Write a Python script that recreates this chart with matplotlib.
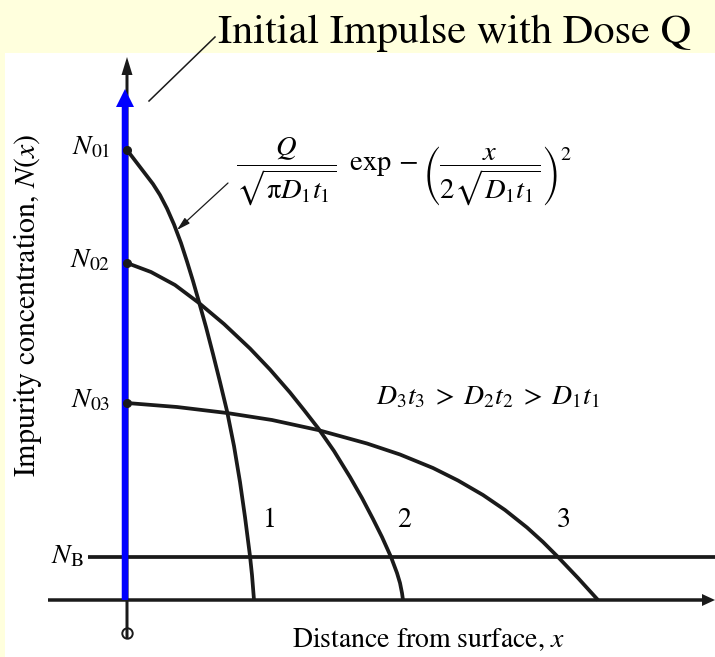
import numpy as np
import matplotlib
matplotlib.use("Agg")
import matplotlib.pyplot as plt
from matplotlib.patches import Rectangle

plt.rcParams['font.family'] = 'STIXGeneral'
plt.rcParams['mathtext.fontset'] = 'stix'

# depth (arbitrary units) and log-concentration above the plotted floor
curve1_x = [0.00, 0.13, 0.26, 0.33, 0.40, 0.47, 0.54, 0.60, 0.66, 0.72, 0.79, 0.86, 0.93,
            1.00, 1.07, 1.13, 1.18, 1.23, 1.25, 1.27]
curve1_y = [4.50, 4.33, 4.16, 4.05, 3.915, 3.756, 3.57, 3.385, 3.19, 2.98, 2.73, 2.46, 2.18,
            1.89, 1.54, 1.18, 0.83, 0.44, 0.25, 0.00]
curve2_x = [0.00, 0.24, 0.48, 0.72, 0.97, 1.23, 1.43, 1.63, 1.77, 1.91, 2.07, 2.23, 2.35,
            2.46, 2.55, 2.64, 2.70, 2.73, 2.75, 2.76]
curve2_y = [3.37, 3.28, 3.15, 2.97, 2.76, 2.515, 2.305, 2.075, 1.90, 1.72, 1.49, 1.23, 1.02,
            0.81, 0.63, 0.43, 0.27, 0.17, 0.07, 0.00]
curve3_x = [0.00, 0.50, 1.00, 1.45, 1.91, 2.40, 2.73, 3.06, 3.31, 3.56, 3.78, 4.00, 4.16,
            4.31, 4.51, 4.71]
curve3_y = [1.97, 1.93, 1.87, 1.80, 1.70, 1.565, 1.455, 1.32, 1.195, 1.05, 0.90, 0.725, 0.58,
            0.43, 0.22, 0.00]
curves = [(curve1_x, curve1_y), (curve2_x, curve2_y), (curve3_x, curve3_y)]
surface_labels = [r'$N_{01}$', r'$N_{02}$', r'$N_{03}$']
curve_names = ['1', '2', '3']
background_level = 0.43

k = '#1a1a1a'
fig = plt.figure(figsize=(7.15, 6.57), dpi=100, facecolor='#ffffdd')
ax = fig.add_axes([0, 0, 1, 1])
ax.set_xlim(-1.27, 5.88)
ax.set_ylim(-0.57, 6.00)
ax.axis('off')
ax.add_patch(Rectangle((5 / 715, 0), 710 / 715, 604 / 657, transform=fig.transFigure,
                       facecolor='white', edgecolor='none', zorder=0))

# axes drawn as arrows
ax.arrow(-0.79, 0, 6.67, 0, width=0.035, head_width=0.12, head_length=0.13,
         length_includes_head=True, color=k, lw=0, zorder=2)
ax.arrow(0, -0.38, 0, 5.81, width=0.03, head_width=0.11, head_length=0.18,
         length_includes_head=True, color=k, lw=0, zorder=2)
ax.plot(0, -0.33, 'o', ms=7.5, mfc='none', mec=k, mew=1.4, zorder=2)

# initial delta-function profile
ax.arrow(-0.02, 0, 0, 5.11, width=0.065, head_width=0.18, head_length=0.18,
         length_includes_head=True, color='#0000ff', lw=0, zorder=3)

# background doping
ax.plot([-0.39, 5.88], [background_level, background_level], color=k, lw=2.7,
        solid_capstyle='butt', zorder=2)
ax.text(-0.43, background_level, r'$N_{\mathrm{B}}$', fontsize=20, ha='right', va='center')

for (xs, ys), lab, name, lx in zip(curves, surface_labels, curve_names, [1.43, 2.77, 4.37]):
    ax.plot(xs, ys, color=k, lw=2.7, solid_capstyle='butt', solid_joinstyle='round', zorder=4)
    ax.plot(xs[0], ys[0], 'o', color=k, ms=5.5, zorder=5)
    ax.text(-0.17, ys[0] + 0.02, lab, fontsize=20, ha='right', va='center')
    ax.text(lx, 0.80, name, fontsize=20, ha='center', va='center')

ax.text(2.77, 4.28,
        r'$\dfrac{Q}{\sqrt{\mathrm{\pi} D_1t_1}}\;\;\exp-\left(\dfrac{x}{2\sqrt{D_1t_1}}\right)^2$',
        fontsize=20.5, ha='center', va='center')
ax.annotate('', xy=(0.50, 3.70), xytext=(1.01, 4.17),
            arrowprops=dict(arrowstyle='-|>,head_length=0.8,head_width=0.22', lw=0.9, color=k,
                            shrinkA=0, shrinkB=0))
ax.text(3.61, 2.02, r'$D_3t_3\;>\;D_2t_2\;>\;D_1t_1$', fontsize=20, ha='center', va='center')

ax.text(3.02, -0.40, r'Distance from surface, $x$', fontsize=20, ha='center', va='center')
ax.text(-0.99, 2.95, r'Impurity concentration, $N$($x$)', fontsize=21.5, ha='center',
        va='center', rotation=90)

ax.text(0.91, 5.57, 'Initial Impulse with Dose Q', fontsize=30.5, ha='left', va='baseline')
ax.plot([0.22, 0.88], [4.99, 5.63], color=k, lw=1.1)

fig.savefig('out.png', dpi=100, facecolor=fig.get_facecolor())
